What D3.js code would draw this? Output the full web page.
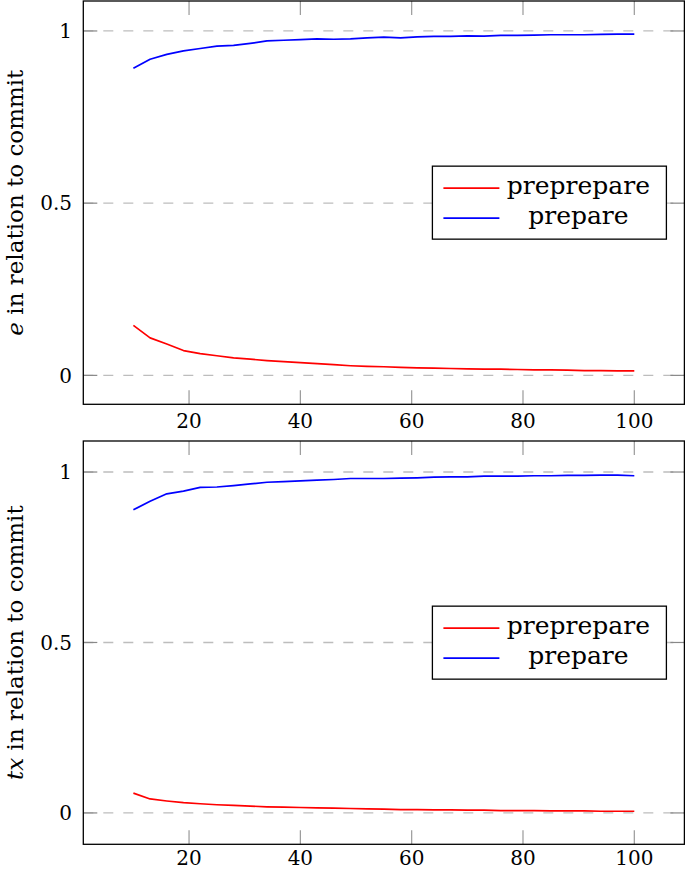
<!DOCTYPE html>
<html>
<head>
<meta charset="utf-8">
<script src="https://cdn.jsdelivr.net/npm/d3@7"></script>
<style>
  html, body { margin: 0; padding: 0; background: #fff; }
  svg { display: block; }
</style>
</head>
<body>
<svg id="chart" width="685" height="870"></svg>
<script>
// ---- data ----
const xValues = [10, 13, 16, 19, 22, 25, 28, 31, 34, 37, 40, 43, 46, 49, 52, 55,
                 58, 61, 64, 67, 70, 73, 76, 79, 82, 85, 88, 91, 94, 97, 100];

const ePrePrepare = [0.145, 0.109, 0.091, 0.072, 0.063, 0.057, 0.051, 0.047, 0.043, 0.040,
                     0.037, 0.034, 0.031, 0.028, 0.026, 0.025, 0.023, 0.022, 0.021, 0.020,
                     0.019, 0.018, 0.018, 0.017, 0.016, 0.016, 0.015, 0.014, 0.014, 0.013, 0.013];
const ePrepare = [0.892, 0.918, 0.932, 0.942, 0.949, 0.956, 0.958, 0.964, 0.971, 0.973,
                  0.975, 0.977, 0.976, 0.977, 0.980, 0.982, 0.980, 0.983, 0.984, 0.984,
                  0.986, 0.985, 0.987, 0.987, 0.988, 0.989, 0.989, 0.989, 0.990, 0.991, 0.991];

const txPrePrepare = [0.058, 0.041, 0.035, 0.030, 0.027, 0.024, 0.022, 0.020, 0.018, 0.017,
                      0.016, 0.015, 0.014, 0.013, 0.012, 0.011, 0.010, 0.010, 0.009, 0.009,
                      0.008, 0.008, 0.007, 0.007, 0.007, 0.006, 0.006, 0.006, 0.005, 0.005, 0.005];
const txPrepare = [0.889, 0.914, 0.936, 0.944, 0.955, 0.956, 0.960, 0.965, 0.970, 0.972,
                   0.974, 0.976, 0.978, 0.981, 0.981, 0.981, 0.982, 0.983, 0.985, 0.986,
                   0.986, 0.988, 0.988, 0.988, 0.989, 0.989, 0.990, 0.990, 0.991, 0.991, 0.989];

const xTicks = [20, 40, 60, 80, 100];
const yTicks = [0, 0.5, 1];
const yTickLabels = ["0", "0.5", "1"];
const seriesNames = ["preprepare", "prepare"];
const seriesColors = ["#ff0000", "#0000ff"];

// ---- layout ----
const FONT = "'DejaVu Serif', 'Liberation Serif', 'Times New Roman', Times, serif";
const svg = d3.select("#chart");
const frameLeft = 83.3, frameRight = 684.4;

const panels = [
  { top: 1, bottom: 404.3, yDomain: [-0.084, 1.087], label: ["e", " in relation to commit"],
    series: [ePrePrepare, ePrepare] },
  { top: 441, bottom: 844.3, yDomain: [-0.092, 1.091], label: ["tx", " in relation to commit"],
    series: [txPrePrepare, txPrepare] }
];

const x = d3.scaleLinear().domain([1, 109]).range([frameLeft, frameRight]);

panels.forEach(p => {
  const y = d3.scaleLinear().domain(p.yDomain).range([p.bottom, p.top]);
  const g = svg.append("g").attr("font-family", FONT);

  // grid
  g.selectAll(".grid").data(yTicks).enter().append("line")
    .attr("x1", frameLeft).attr("x2", frameRight)
    .attr("y1", d => y(d)).attr("y2", d => y(d))
    .attr("stroke", "#bdbdbd").attr("stroke-width", 1.3)
    .attr("stroke-dasharray", "10,10");

  // ticks (inward, all four sides)
  const tl = 14;
  xTicks.forEach(t => {
    g.append("line").attr("x1", x(t)).attr("x2", x(t))
      .attr("y1", p.bottom).attr("y2", p.bottom - tl)
      .attr("stroke", "#999").attr("stroke-width", 1.2);
    g.append("line").attr("x1", x(t)).attr("x2", x(t))
      .attr("y1", p.top).attr("y2", p.top + tl)
      .attr("stroke", "#999").attr("stroke-width", 1.2);
  });
  yTicks.forEach(t => {
    g.append("line").attr("x1", frameLeft).attr("x2", frameLeft + tl)
      .attr("y1", y(t)).attr("y2", y(t))
      .attr("stroke", "#888").attr("stroke-width", 1.2);
    g.append("line").attr("x1", frameRight).attr("x2", frameRight - tl)
      .attr("y1", y(t)).attr("y2", y(t))
      .attr("stroke", "#888").attr("stroke-width", 1.2);
  });

  // tick labels
  g.selectAll(".xl").data(xTicks).enter().append("text")
    .attr("x", d => x(d)).attr("y", Math.min(p.bottom + 24, 865))
    .attr("text-anchor", "middle").attr("font-size", 20)
    .text(d => d);
  g.selectAll(".yl").data(yTicks).enter().append("text")
    .attr("x", 72).attr("y", d => y(d)).attr("dy", "0.36em")
    .attr("text-anchor", "end").attr("font-size", 20)
    .text((d, i) => yTickLabels[i]);

  // y axis label
  const cy = (p.top + p.bottom) / 2;
  const lab = g.append("text")
    .attr("transform", `translate(23,${cy}) rotate(-90)`)
    .attr("text-anchor", "middle").attr("font-size", 23);
  lab.append("tspan").attr("font-style", "italic").text(p.label[0]);
  lab.append("tspan").text(p.label[1]);

  // lines
  const line = d3.line().x((d, i) => x(xValues[i])).y(d => y(d));
  p.series.forEach((s, i) => {
    g.append("path").datum(s).attr("d", line)
      .attr("fill", "none").attr("stroke", seriesColors[i])
      .attr("stroke-width", 1.7).attr("stroke-linejoin", "round");
  });

  // frame
  g.append("rect").attr("x", frameLeft).attr("y", p.top)
    .attr("width", frameRight - frameLeft).attr("height", p.bottom - p.top)
    .attr("fill", "none").attr("stroke", "#000").attr("stroke-width", 1.3);

  // legend
  const lw = 234, lh = 73;
  const lx = frameRight - 18 - lw, ly = cy - lh / 2;
  const lg = g.append("g");
  lg.append("rect").attr("x", lx).attr("y", ly).attr("width", lw).attr("height", lh)
    .attr("fill", "#fff").attr("stroke", "#000").attr("stroke-width", 1.3);
  seriesNames.forEach((n, i) => {
    const yy = ly + 22 + i * 30;
    lg.append("line").attr("x1", lx + 11).attr("x2", lx + 67)
      .attr("y1", yy).attr("y2", yy)
      .attr("stroke", seriesColors[i]).attr("stroke-width", 1.7);
    lg.append("text").attr("x", lx + 146).attr("y", yy + 6)
      .attr("text-anchor", "middle").attr("font-size", 25)
      .text(n);
  });
});
</script>
</body>
</html>
